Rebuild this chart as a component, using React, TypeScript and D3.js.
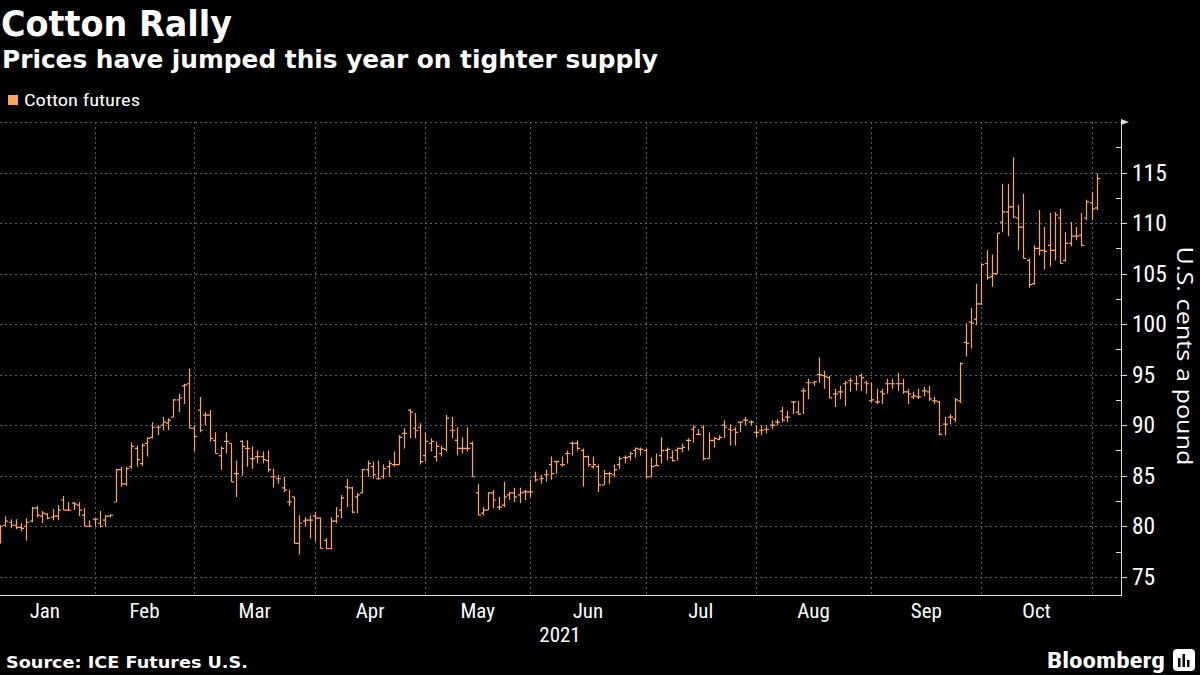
import React, { useEffect } from "react";
import * as d3 from "d3";

const START_DATE = "2021-01-04";
const END_DATE = "2021-11-02";
const HOLIDAYS = ["2021-01-18", "2021-02-15", "2021-04-02", "2021-05-31", "2021-07-05", "2021-09-06"];
const MONTH_LABELS = ["Jan", "Feb", "Mar", "Apr", "May", "Jun", "Jul", "Aug", "Sep", "Oct"];
const Y_TICKS = [75, 80, 85, 90, 95, 100, 105, 110, 115];
const Y_MINOR = [77.5, 82.5, 87.5, 92.5, 97.5, 102.5, 107.5, 112.5, 117.5];

const OPEN = [
  78.6, 79.0, 80.1, 80.4, 80.1, 79.9, 80.0, 80.5, 81.8, 81.0, 81.2, 80.9, 81.0, 82.6, 81.6, 82.3, 82.1, 81.1, 80.0,
  80.7, 80.3, 80.6, 81.0, 82.4, 85.6, 84.2, 85.9, 87.7, 86.2, 88.2, 88.8, 89.8, 90.0, 90.2, 90.8, 92.5, 93.9, 94.1,
  89.7, 91.5, 91.0, 91.0, 88.5, 87.0, 88.4, 88.2, 85.2, 88.4, 87.7, 86.7, 86.9, 86.9, 86.5, 84.9, 84.7, 83.8, 82.4, 82.9, 78.3, 80.5, 80.6,
  81.0, 80.8, 78.6, 77.8, 80.5, 81.6, 83.9, 83.8, 82.9, 83.3, 85.6, 85.9, 84.7, 84.9, 85.9, 86.1, 86.1, 89.2, 91.5, 89.7, 89.8,
  87.0, 88.2, 86.9, 87.2, 87.6, 89.5, 88.5, 87.7, 87.7, 88.2, 83.3, 81.3, 81.6, 83.3, 81.9, 82.1, 83.1, 83.3, 83.1, 83.4,
  83.4, 84.9, 84.7, 85.1, 86.1, 86.4, 86.1, 87.2, 88.2, 88.2, 87.5, 86.9, 85.9, 85.9, 84.1, 85.2, 85.1, 86.1, 86.8, 86.9, 87.5, 87.6,
  87.5, 84.9, 86.0, 87.0, 87.5, 86.8, 87.5, 87.7, 88.5, 89.6, 89.1, 89.8, 86.7, 88.5, 88.6, 90.0, 89.6, 89.6, 90.3, 90.5, 90.3,
  89.3, 89.5, 89.6, 90.0, 90.3, 91.4, 90.8, 92.3, 91.3, 93.4, 94.2, 94.2, 95.0, 94.9, 94.7, 93.1, 93.3, 94.1, 94.4, 94.1, 94.9, 94.2,
  92.4, 92.3, 93.3, 94.1, 94.1, 94.1, 94.1, 93.3, 92.8, 92.8, 93.4, 93.3, 92.4, 92.3, 90.1, 90.8, 90.6, 92.4, 98.2, 100.2, 100.5,
  102.0, 106.0, 104.7, 105.0, 110.1, 111.1, 111.6, 110.5, 109.6, 106.3, 104.0, 107.5, 107.3, 107.8, 107.3, 110.5, 106.3, 108.0, 108.7, 108.8, 110.5, 112.0, 111.5,
];
const HIGH = [
  79.8, 80.1, 81.0, 80.7, 80.7, 80.3, 80.8, 81.9, 82.0, 81.5, 81.3, 81.7, 82.1, 83.0, 82.4, 82.4, 82.4, 81.8, 80.6,
  80.8, 81.5, 81.1, 81.2, 85.7, 85.9, 85.9, 88.3, 88.0, 88.2, 88.8, 90.3, 90.0, 90.8, 90.7, 92.6, 93.1, 94.1, 95.6,
  90.0, 92.8, 91.3, 91.5, 89.3, 87.9, 89.3, 88.2, 86.5, 88.5, 88.5, 87.9, 87.5, 87.4, 87.5, 85.7, 85.1, 84.9, 83.6, 82.9, 81.1, 80.9, 81.1,
  81.4, 80.9, 78.8, 80.9, 81.9, 83.1, 84.7, 83.9, 83.3, 85.7, 86.5, 86.4, 86.5, 86.1, 86.5, 87.4, 89.0, 89.7, 91.6, 91.2, 90.2,
  89.3, 88.7, 88.4, 88.0, 91.0, 90.8, 89.8, 88.8, 89.8, 88.4, 84.2, 81.9, 83.4, 83.6, 82.9, 84.4, 83.4, 83.8, 83.8, 83.6,
  84.6, 85.4, 85.1, 85.6, 86.9, 86.5, 86.9, 87.5, 88.4, 88.5, 87.7, 87.0, 86.9, 86.1, 85.6, 85.4, 86.1, 86.9, 87.0, 87.4, 87.8, 87.8,
  87.7, 86.8, 87.2, 88.8, 87.8, 87.5, 87.8, 88.2, 88.7, 90.0, 89.6, 90.0, 89.3, 88.8, 89.0, 90.5, 90.1, 89.8, 90.3, 90.8, 90.5,
  90.0, 90.0, 90.0, 90.5, 90.6, 91.8, 91.4, 92.4, 92.4, 93.7, 94.6, 94.4, 96.7, 95.4, 94.9, 93.6, 93.9, 94.4, 94.7, 94.9, 95.1, 94.4,
  94.2, 93.6, 93.6, 94.6, 94.6, 95.2, 94.6, 93.6, 93.3, 93.6, 93.8, 93.9, 92.8, 92.4, 90.8, 91.1, 92.7, 96.2, 100.1, 101.6, 104.0,
  106.0, 107.3, 106.9, 109.0, 113.9, 113.9, 116.5, 111.8, 112.9, 106.5, 107.8, 111.3, 109.6, 111.0, 111.1, 111.4, 109.1, 110.1, 109.6, 111.0, 112.3, 113.1, 114.9,
];
const LOW = [
  78.0, 78.3, 80.0, 79.8, 79.7, 79.5, 78.6, 80.4, 80.9, 80.3, 80.7, 80.6, 80.6, 81.6, 81.5, 81.6, 81.0, 80.0, 79.9,
  80.0, 79.9, 80.0, 80.9, 82.4, 83.9, 84.0, 85.7, 85.9, 86.0, 86.9, 88.7, 89.0, 89.5, 89.5, 90.8, 91.3, 92.1, 89.7,
  87.4, 89.3, 90.0, 88.4, 87.2, 85.6, 87.2, 84.4, 82.9, 85.0, 85.9, 85.7, 86.2, 86.2, 85.4, 83.8, 84.2, 83.4, 82.0, 78.3, 77.2, 80.0, 78.8,
  78.5, 77.8, 77.7, 77.7, 80.3, 80.8, 81.9, 81.3, 81.3, 83.3, 84.9, 84.7, 84.6, 84.7, 84.9, 85.9, 86.1, 87.7, 88.7, 88.7, 86.1,
  86.4, 87.4, 86.4, 86.9, 87.4, 88.7, 87.0, 87.2, 87.4, 84.9, 81.1, 81.1, 81.6, 81.8, 81.6, 81.9, 82.6, 82.4, 82.3, 82.6,
  82.9, 84.4, 84.2, 84.4, 84.6, 85.2, 85.9, 86.2, 87.0, 87.5, 83.9, 85.9, 85.7, 83.4, 84.1, 84.2, 84.9, 85.7, 86.2, 86.5, 86.8, 87.0,
  84.7, 84.9, 86.0, 86.2, 86.5, 86.4, 86.5, 87.3, 87.5, 88.3, 89.0, 86.5, 86.7, 87.8, 88.5, 88.7, 88.0, 88.0, 89.3, 90.0, 90.0,
  88.8, 89.0, 89.2, 89.6, 90.0, 90.3, 90.3, 91.1, 91.0, 91.1, 92.6, 93.9, 94.2, 93.6, 92.7, 91.8, 92.6, 91.9, 93.3, 93.4, 93.4, 93.1,
  92.3, 92.1, 92.1, 93.1, 93.6, 93.4, 93.1, 92.1, 92.6, 92.6, 92.9, 92.4, 92.1, 89.0, 89.0, 90.1, 90.3, 92.2, 96.8, 97.6, 99.9,
  101.9, 104.4, 103.7, 105.0, 109.1, 108.7, 110.5, 107.3, 106.5, 103.6, 103.9, 106.8, 105.4, 105.7, 106.3, 106.0, 106.2, 107.7, 108.3, 107.7, 110.3, 110.3, 111.3,
];
const CLOSE = [
  79.0, 80.0, 80.5, 80.1, 79.9, 79.8, 80.4, 81.8, 81.1, 81.3, 80.8, 81.0, 81.6, 81.6, 81.6, 82.2, 81.6, 80.0, 80.0,
  80.7, 80.0, 81.0, 81.1, 85.6, 84.2, 85.7, 87.9, 86.6, 88.0, 88.7, 89.8, 89.8, 90.3, 90.5, 92.5, 92.7, 94.0, 89.7,
  88.9, 89.5, 91.0, 88.7, 87.2, 87.7, 88.4, 84.4, 85.2, 87.9, 87.7, 86.7, 86.9, 86.6, 85.6, 84.9, 84.7, 83.6, 82.4, 78.3, 80.3, 80.6, 80.6,
  80.8, 77.8, 77.8, 80.5, 81.0, 82.8, 83.8, 81.4, 83.1, 85.6, 86.2, 85.1, 84.7, 85.7, 86.2, 86.1, 88.8, 89.2, 91.3, 89.5, 86.4,
  88.4, 88.4, 87.9, 87.7, 90.7, 89.5, 87.7, 87.7, 87.7, 84.9, 81.1, 81.6, 83.3, 82.6, 81.9, 82.9, 83.3, 82.9, 83.3, 83.4,
  83.4, 84.6, 84.7, 85.1, 85.2, 86.4, 86.1, 87.2, 88.2, 87.7, 86.9, 86.1, 86.1, 84.1, 85.2, 85.2, 85.6, 86.7, 86.8, 87.2, 87.7, 87.6,
  84.9, 85.9, 86.0, 87.5, 87.6, 86.5, 87.7, 87.8, 88.5, 89.8, 89.1, 86.7, 88.5, 88.7, 88.8, 89.8, 89.5, 89.3, 90.3, 90.5, 90.3,
  89.3, 89.5, 89.6, 90.0, 90.3, 90.5, 90.8, 92.3, 91.1, 93.4, 94.2, 94.3, 95.0, 94.8, 92.7, 93.1, 93.3, 94.2, 94.4, 94.1, 94.7, 94.1,
  92.5, 92.3, 93.1, 94.1, 94.1, 94.1, 93.3, 93.1, 92.9, 92.8, 93.4, 92.6, 92.4, 89.1, 90.1, 90.8, 92.5, 96.1, 98.1, 100.1, 102.0,
  105.9, 104.6, 105.0, 109.0, 111.1, 111.6, 110.6, 109.6, 106.5, 103.9, 107.5, 107.3, 107.2, 107.3, 110.8, 106.0, 108.0, 108.7, 108.7, 107.8, 112.1, 111.4, 114.4,
];

const W = 1200;
const H = 675;
const PLOT_RIGHT = 1121;
const PLOT_TOP = 122;
const PLOT_BOTTOM = 595;
const ORANGE = "#f8a75c";
const GRID = "#5e5e5e";
const NARROW = "'Liberation Sans Narrow', 'Arial Narrow', 'Roboto Condensed', 'DejaVu Sans Condensed', sans-serif";
const BOLD = "'DejaVu Sans', Verdana, sans-serif";

const fmt = d3.timeFormat("%Y-%m-%d");
const parse = d3.timeParse("%Y-%m-%d");

export default function App() {
  useEffect(() => {
    document.body.style.margin = "0";
    document.body.style.background = "#000";
  }, []);

  const start = parse(START_DATE) as Date;
  const end = d3.timeDay.offset(parse(END_DATE) as Date, 1);
  const days = d3.timeDay
    .range(start, end)
    .filter((d) => d.getDay() !== 0 && d.getDay() !== 6 && !HOLIDAYS.includes(fmt(d)));
  const keys = days.map(fmt);

  const x = d3.scalePoint<string>().domain(keys).range([-5, 1096.9]);
  const y = d3.scaleLinear().domain([73.2, 120]).range([PLOT_BOTTOM, PLOT_TOP]);

  const monthStarts: number[] = [];
  days.forEach((d, i) => {
    if (i === 0 || d.getMonth() !== days[i - 1].getMonth()) monthStarts.push(i);
  });
  const gridX = monthStarts.slice(1).map((i) => x(keys[i]) as number);
  const labelX = MONTH_LABELS.map((_, m) => {
    const a = x(keys[monthStarts[m]]) as number;
    const b = x(keys[monthStarts[m + 1]]) as number;
    return (a + b) / 2;
  });

  const tick = 2.6;
  const bars = keys.map((k, i) => {
    const cx = Math.round(x(k) as number) + 0.5;
    const d = `M${cx},${y(HIGH[i])}V${y(LOW[i])}M${cx - tick},${y(OPEN[i])}H${cx}M${cx},${y(CLOSE[i])}H${cx + tick}`;
    return <path key={k} d={d} />;
  });

  const gridVals = [...Y_TICKS, 120];

  return (
    <svg width={W} height={H} style={{ position: "absolute", left: 0, top: 0, background: "#000" }}>
      <rect x={0} y={0} width={W} height={H} fill="#000" />
      <defs>
        <clipPath id="plotclip">
          <rect x={0} y={PLOT_TOP - 5} width={PLOT_RIGHT} height={PLOT_BOTTOM - PLOT_TOP + 5} />
        </clipPath>
      </defs>

      <text x={1} y={36} fill="#fff" fontFamily={BOLD} fontWeight="bold" fontSize={36} textLength={231} lengthAdjust="spacingAndGlyphs">
        Cotton Rally
      </text>
      <text x={2} y={68} fill="#fff" fontFamily={BOLD} fontWeight="bold" fontSize={24} textLength={656} lengthAdjust="spacingAndGlyphs">
        Prices have jumped this year on tighter supply
      </text>

      <rect x={8} y={95} width={10} height={10} fill={ORANGE} />
      <text x={24} y={106} fill="#fff" fontFamily={NARROW} fontSize={17} textLength={116} lengthAdjust="spacingAndGlyphs">
        Cotton futures
      </text>

      <g stroke={GRID} strokeWidth={1} strokeDasharray="2,3" shapeRendering="crispEdges">
        {gridVals.map((v) => (
          <line key={`h${v}`} x1={0} x2={PLOT_RIGHT} y1={Math.round(y(v)) + 0.5} y2={Math.round(y(v)) + 0.5} />
        ))}
        {gridX.map((gx, i) => (
          <line key={`v${i}`} x1={Math.round(gx) + 0.5} x2={Math.round(gx) + 0.5} y1={PLOT_TOP} y2={PLOT_BOTTOM} />
        ))}
      </g>

      <g clipPath="url(#plotclip)" stroke={ORANGE} strokeWidth={1.2} fill="none">
        {bars}
      </g>

      <g stroke="#e0e0e0" strokeWidth={1} shapeRendering="crispEdges">
        <line x1={0} x2={PLOT_RIGHT + 0.5} y1={PLOT_BOTTOM + 0.5} y2={PLOT_BOTTOM + 0.5} />
        <line x1={PLOT_RIGHT + 0.5} x2={PLOT_RIGHT + 0.5} y1={PLOT_TOP} y2={PLOT_BOTTOM + 0.5} />
        {Y_TICKS.map((v) => (
          <line key={`t${v}`} x1={PLOT_RIGHT} x2={PLOT_RIGHT + 6} y1={Math.round(y(v)) + 0.5} y2={Math.round(y(v)) + 0.5} />
        ))}
        {Y_MINOR.map((v) => (
          <line key={`m${v}`} x1={PLOT_RIGHT - 5} x2={PLOT_RIGHT} y1={Math.round(y(v)) + 0.5} y2={Math.round(y(v)) + 0.5} />
        ))}
      </g>
      <path d={`M${PLOT_RIGHT},${PLOT_TOP - 3}L${PLOT_RIGHT + 8},${PLOT_TOP}L${PLOT_RIGHT},${PLOT_TOP + 3}Z`} fill="#e0e0e0" />

      <g fill="#fff" fontFamily={NARROW} fontSize={23.5}>
        {Y_TICKS.map((v) => (
          <text key={`l${v}`} x={1132} y={y(v)} dominantBaseline="central">
            {v}
          </text>
        ))}
      </g>
      <text
        transform={`translate(1177,356) rotate(90)`}
        textAnchor="middle"
        fill="#fff"
        fontFamily="'Open Sans', 'Noto Sans', sans-serif"
        fontSize={22}
        textLength={219}
        lengthAdjust="spacingAndGlyphs"
      >
        U.S. cents a pound
      </text>

      <g fill="#fff" fontFamily={NARROW} fontSize={21} textAnchor="middle">
        {MONTH_LABELS.map((m, i) => (
          <text key={m} x={labelX[i]} y={618}>
            {m}
          </text>
        ))}
        <text x={560} y={642}>2021</text>
      </g>

      <text x={6} y={668} fill="#fff" fontFamily={BOLD} fontWeight="bold" fontSize={16} textLength={242} lengthAdjust="spacingAndGlyphs">
        Source: ICE Futures U.S.
      </text>
      <text x={1047} y={668} fill="#fff" fontFamily={NARROW} fontWeight="bold" fontSize={22} textLength={118} lengthAdjust="spacingAndGlyphs">
        Bloomberg
      </text>
      <g transform="translate(1173,649)">
        <rect x={0} y={0} width={22} height={22} rx={4} fill="#fff" />
        <rect x={5} y={9} width={2.5} height={9} fill="#000" />
        <rect x={9.5} y={5} width={2.5} height={13} fill="#000" />
        <rect x={14} y={11} width={2.5} height={7} fill="#000" />
      </g>
    </svg>
  );
}
